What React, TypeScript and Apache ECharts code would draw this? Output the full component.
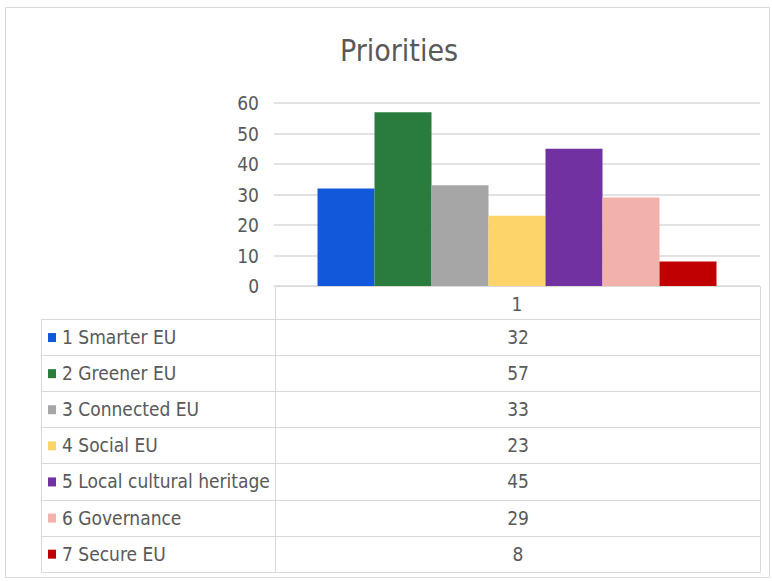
import React, { useEffect, useRef } from "react";
import * as echarts from "echarts";

const title = "Priorities";
const categories = ["1"];
const seriesNames = [
  "1 Smarter EU",
  "2 Greener EU",
  "3 Connected EU",
  "4 Social EU",
  "5 Local cultural heritage",
  "6 Governance",
  "7 Secure EU",
];
const seriesValues = [32, 57, 33, 23, 45, 29, 8];
const seriesColors = ["#1158db", "#2a7b3e", "#a6a6a6", "#fdd469", "#7131a1", "#f3b1ab", "#c00000"];
const yTicks = { min: 0, max: 60, interval: 10 };

const FONT = "'Liberation Sans Narrow', 'Arial Narrow', 'DejaVu Sans Condensed', sans-serif";
const TXT = "#595959";
const LINE = "#d9d9d9";

export default function App() {
  const ref = useRef<HTMLDivElement>(null);
  useEffect(() => {
    if (!ref.current) return;
    const chart = echarts.init(ref.current, undefined, { renderer: "svg" });

    const plotLeft = 274;
    const plotRight = 760;
    const axisY = 286;
    const tableLeft = 41;
    const headerBottom = 319;
    const rowH = 36.1;
    const tableBottom = headerBottom + rowH * seriesNames.length;

    const graphics: any[] = [];
    graphics.push({
      type: "rect",
      shape: { x: 5.5, y: 7.5, width: 764, height: 570 },
      style: { fill: "none", stroke: LINE, lineWidth: 1 },
      silent: true,
    });
    [plotLeft + 1, plotRight].forEach((x) => {
      graphics.push({
        type: "line",
        shape: { x1: x + 0.5, y1: axisY, x2: x + 0.5, y2: tableBottom },
        style: { stroke: LINE, lineWidth: 1 },
        silent: true,
      });
    });
    graphics.push({
      type: "line",
      shape: { x1: tableLeft + 0.5, y1: headerBottom, x2: tableLeft + 0.5, y2: tableBottom },
      style: { stroke: LINE, lineWidth: 1 },
      silent: true,
    });
    for (let i = 0; i <= seriesNames.length; i++) {
      const y = Math.round(headerBottom + rowH * i) + 0.5;
      graphics.push({
        type: "line",
        shape: { x1: tableLeft, y1: y, x2: plotRight + 1, y2: y },
        style: { stroke: LINE, lineWidth: 1 },
        silent: true,
      });
    }
    seriesNames.forEach((name, i) => {
      const cy = headerBottom + rowH * (i + 0.5);
      graphics.push({
        type: "rect",
        shape: { x: 48, y: cy - 4, width: 8, height: 9 },
        style: { fill: seriesColors[i] },
        silent: true,
      });
      graphics.push({
        type: "text",
        x: 62,
        y: cy,
        style: {
          text: name,
          fill: TXT,
          font: `19px ${FONT}`,
          textVerticalAlign: "middle",
          textAlign: "left",
        },
        silent: true,
      });
      graphics.push({
        type: "text",
        x: (plotLeft + plotRight) / 2 + 1,
        y: cy,
        style: {
          text: String(seriesValues[i]),
          fill: TXT,
          font: `19px ${FONT}`,
          textVerticalAlign: "middle",
          textAlign: "center",
        },
        silent: true,
      });
    });

    chart.setOption({
      animation: false,
      backgroundColor: "#ffffff",
      title: {
        text: title,
        left: 394,
        top: 30,
        textAlign: "center",
        textStyle: { color: TXT, fontFamily: FONT, fontSize: 30, fontWeight: "normal" },
      },
      grid: { left: plotLeft, right: 772 - plotRight, top: 103, bottom: 581 - axisY },
      xAxis: {
        type: "category",
        data: categories,
        axisLine: { lineStyle: { color: LINE } },
        axisTick: { show: false },
        axisLabel: { color: TXT, fontFamily: FONT, fontSize: 19, margin: 8 },
      },
      yAxis: {
        type: "value",
        min: yTicks.min,
        max: yTicks.max,
        interval: yTicks.interval,
        axisLine: { show: false },
        axisTick: { show: false },
        splitLine: { lineStyle: { color: LINE, width: 1.5 } },
        axisLabel: { color: TXT, fontFamily: FONT, fontSize: 19, margin: 15 },
      },
      series: seriesNames.map((name, i) => ({
        type: "bar",
        name,
        data: [seriesValues[i]],
        barWidth: 57,
        barGap: "0%",
        itemStyle: { color: seriesColors[i] },
      })),
      graphic: graphics,
    });
    return () => chart.dispose();
  }, []);
  return (
    <div
      ref={ref}
      style={{ position: "absolute", left: 0, top: 0, width: 772, height: 581, background: "#fff" }}
    />
  );
}
